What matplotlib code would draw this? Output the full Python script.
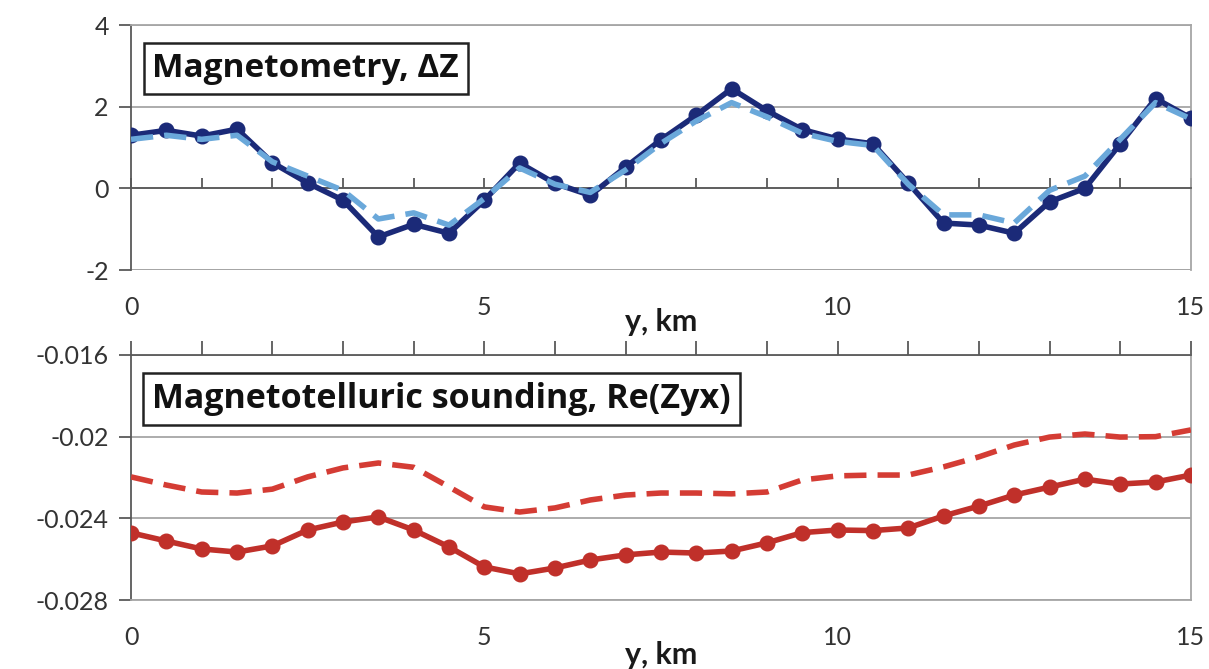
import numpy as np
import matplotlib.pyplot as plt

# profile positions, km (step 0.5)
y_km = np.arange(31) * 0.5

# magnetometry dZ
dz_obs = [1.30, 1.42, 1.28, 1.45, 0.63, 0.13, -0.29, -1.19, -0.88, -1.10,
          -0.29, 0.62, 0.12, -0.17, 0.52, 1.19, 1.79, 2.44, 1.90, 1.44,
          1.21, 1.09, 0.13, -0.85, -0.90, -1.10, -0.33, 0.00, 1.09, 2.20, 1.72]
dz_model = [1.20, 1.30, 1.20, 1.30, 0.65, 0.30, -0.05, -0.75, -0.60, -0.90,
            -0.25, 0.50, 0.10, -0.10, 0.45, 1.10, 1.65, 2.10, 1.75, 1.35,
            1.15, 1.05, 0.10, -0.65, -0.65, -0.85, -0.05, 0.30, 1.20, 2.10, 1.70]

# magnetotelluric Re(Zyx)
zyx_obs = [-0.02471, -0.02511, -0.02550, -0.02565, -0.02535, -0.02457, -0.02418,
           -0.02393, -0.02457, -0.02540, -0.02638, -0.02672, -0.02643, -0.02604,
           -0.02579, -0.02565, -0.02570, -0.02560, -0.02520, -0.02470, -0.02457,
           -0.02460, -0.02447, -0.02388, -0.02340, -0.02286, -0.02247, -0.02208,
           -0.02232, -0.02222, -0.02188]
zyx_model = [-0.02197, -0.02237, -0.02271, -0.02276, -0.02257, -0.02197, -0.02153,
             -0.02129, -0.02150, -0.02246, -0.02344, -0.02369, -0.02349, -0.02310,
             -0.02286, -0.02276, -0.02276, -0.02280, -0.02271, -0.02212, -0.02192,
             -0.02188, -0.02188, -0.02148, -0.02099, -0.02041, -0.02002, -0.01987,
             -0.02002, -0.02000, -0.01967]

x_labels = [0, 5, 10, 15]

plt.rcParams['font.family'] = ['Lato', 'DejaVu Sans']

fig = plt.figure(figsize=(12.09, 6.69), dpi=100)
ax1 = fig.add_axes([0.1084, 0.5964, 0.8766, 0.3662])
ax2 = fig.add_axes([0.1084, 0.1031, 0.8766, 0.3663])

grid_c = '#a6a6a6'
axis_c = '#595959'
lab_c = '#333333'


def style(ax, ylim, yticks, xaxis_at, xlab_y):
    ax.set_xlim(0, 15)
    ax.set_ylim(*ylim)
    ax.set_yticks(yticks)
    ax.set_xticks(np.arange(0, 16, 1))
    ax.set_xticklabels([])
    for t in yticks:
        ax.axhline(t, color=grid_c, lw=1.3, zorder=0)
    for s in ['top', 'right', 'bottom']:
        ax.spines[s].set_color(grid_c)
        ax.spines[s].set_linewidth(1.3)
    ax.spines['left'].set_color(axis_c)
    ax.spines['left'].set_linewidth(1.3)
    ax.tick_params(axis='y', direction='out', length=9, width=1.3,
                   color=axis_c, labelsize=18, labelcolor=lab_c, pad=7)
    # x tick labels shown below the plot area
    sec = ax.secondary_xaxis(-0.105)
    sec.set_xticks(x_labels)
    sec.spines['bottom'].set_visible(False)
    sec.tick_params(length=0, labelsize=18, labelcolor=lab_c, pad=0)
    ax.text(0.5, xlab_y, 'y, km', transform=ax.transAxes, ha='center',
            va='center', fontsize=22, fontweight='bold', color='#1a1a1a')
    if xaxis_at == 'zero':
        ax.spines['bottom'].set_position(('data', 0))
        ax.spines['bottom'].set_color(axis_c)
        ax.tick_params(axis='x', direction='in', length=7, width=1.3,
                       color=axis_c)
        ax.axhline(ylim[0], color=grid_c, lw=1.3, zorder=0)
    else:
        ax.xaxis.set_ticks_position('top')
        ax.spines['top'].set_color(axis_c)
        ax.tick_params(axis='x', direction='out', length=10, width=1.3,
                       color=axis_c)


box = dict(boxstyle='square,pad=0.26', fc='white', ec='#222222', lw=1.8)
box_font = ['Open Sans', 'DejaVu Sans']

style(ax1, (-2, 4), [-2, 0, 2, 4], 'zero', -0.212)
ax1.plot(y_km, dz_obs, color='#1b2a78', lw=4, marker='o', ms=10.5, zorder=3)
ax1.plot(y_km, dz_model, color='#6aa8da', lw=4, ls=(0, (4, 2)), zorder=4)
ax1.set_yticklabels(['-2', '0', '2', '4'])
ax1.text(0.02, 0.89, 'Magnetometry, ΔZ', transform=ax1.transAxes,
         family=box_font, fontsize=24, fontweight='bold', color='#111111',
         va='top', bbox=box)

style(ax2, (-0.028, -0.016), [-0.028, -0.024, -0.02, -0.016], 'top', -0.224)
ax2.plot(y_km, zyx_obs, color='#c0302a', lw=4, marker='o', ms=10.5, zorder=3)
ax2.plot(y_km, zyx_model, color='#d43c34', lw=4, ls=(0, (4, 2)), zorder=4)
ax2.set_yticklabels(['-0.028', '-0.024', '-0.02', '-0.016'])
ax2.text(0.02, 0.89, 'Magnetotelluric sounding, Re(Zyx)',
         transform=ax2.transAxes, family=box_font, fontsize=24.5,
         fontweight='bold', color='#111111', va='top', bbox=box)

fig.savefig('out.png', dpi=100)
